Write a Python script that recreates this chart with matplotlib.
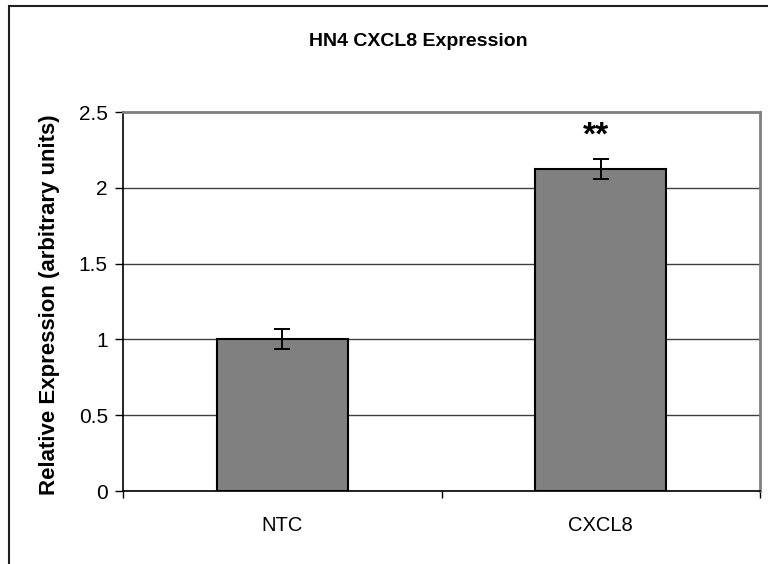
import matplotlib
matplotlib.use('Agg')
import matplotlib.pyplot as plt
from matplotlib.patches import Rectangle

# data
groups = ['NTC', 'CXCL8']
expression = [1.0, 2.125]
err = [0.066, 0.065]
marks = ['', '**']

plt.rcParams['font.family'] = ['Liberation Sans', 'DejaVu Sans']

fig = plt.figure(figsize=(7.68, 5.64), dpi=100)
ax = fig.add_axes([0.1602, 0.1294, 0.8294, 0.672])

# outer chart frame (cut by the image edge on right/bottom)
fig.patches.append(Rectangle((0.0117, -0.2), 1.2, 1.189, transform=fig.transFigure,
                             fill=False, edgecolor='#202020', linewidth=1.5))

x = list(range(len(groups)))
ax.bar(x, expression, width=0.41, color='#808080', edgecolor='black', linewidth=1.5, zorder=3)
ax.errorbar(x, expression, yerr=err, fmt='none', ecolor='black', elinewidth=1.4,
            capsize=5.5, capthick=1.4, zorder=4)
for xi, yi, e, m in zip(x, expression, err, marks):
    if m:
        ax.text(xi - 0.015, yi + e + 0.05, m, ha='center', va='bottom', fontsize=24, fontweight='bold')

ax.set_xlim(-0.5, 1.5)
ax.set_ylim(0, 2.5)
ax.set_yticks([0, 0.5, 1, 1.5, 2, 2.5])
ax.set_yticklabels(['0', '0.5', '1', '1.5', '2', '2.5'])
ax.set_xticks(x)
ax.set_xticklabels(groups)
ax.set_xticks([-0.5, 0.5, 1.5], minor=True)
ax.tick_params(axis='x', which='major', length=0, labelsize=14.5, pad=18)
ax.tick_params(axis='x', which='minor', length=5, width=1, direction='out')
ax.tick_params(axis='y', length=6, width=1, labelsize=15, pad=5)
ax.yaxis.grid(True, color='#404040', linewidth=1.0, zorder=0)
ax.set_axisbelow(True)

for s in ['left', 'bottom']:
    ax.spines[s].set_color('black')
    ax.spines[s].set_linewidth(1.2)
for s in ['top', 'right']:
    ax.spines[s].set_color('#808080')
    ax.spines[s].set_linewidth(2)

fig.text(50 / 768, 1 - 305 / 564, 'Relative Expression (arbitrary units)', rotation=90,
         ha='center', va='center', fontsize=16, fontweight='bold')
fig.text(418 / 768, 1 - 42 / 564, 'HN4 CXCL8 Expression', ha='center', va='center',
         fontsize=14, fontweight='bold')

fig.savefig('out.png', dpi=100)
